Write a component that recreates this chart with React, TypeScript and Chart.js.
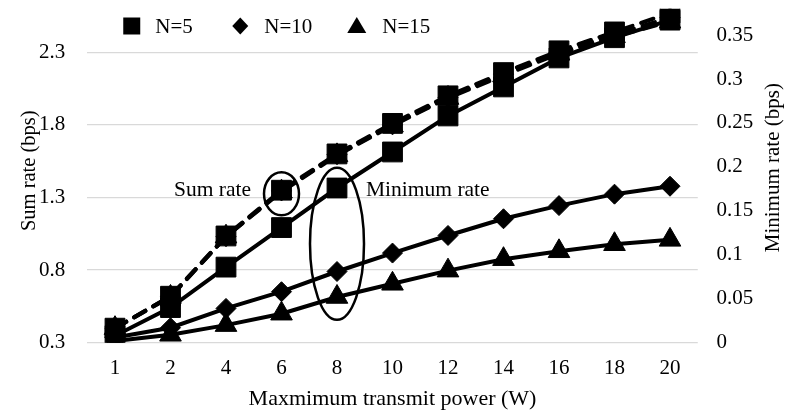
import { useEffect, useRef } from "react";
import { Chart, registerables } from "chart.js";

Chart.register(...registerables);

// ---- data ----
const POWER = ["1", "2", "4", "6", "8", "10", "12", "14", "16", "18", "20"];

// Sum rate (left axis, dashed)
const SUM_N5 = [0.4, 0.62, 1.035, 1.35, 1.6, 1.81, 2.0, 2.16, 2.31, 2.44, 2.57];
const SUM_N10 = [0.4, 0.62, 1.03, 1.345, 1.595, 1.8, 1.99, 2.15, 2.3, 2.42, 2.54];
const SUM_N15 = [0.4, 0.615, 1.03, 1.34, 1.59, 1.795, 1.985, 2.14, 2.29, 2.41, 2.51];

// Minimum rate (right axis, solid)
const MIN_N5 = [0.008, 0.04, 0.086, 0.131, 0.176, 0.217, 0.258, 0.291, 0.324, 0.347, 0.367];
const MIN_N10 = [0.006, 0.017, 0.039, 0.058, 0.081, 0.102, 0.122, 0.141, 0.156, 0.169, 0.178];
const MIN_N15 = [0.002, 0.009, 0.02, 0.033, 0.052, 0.067, 0.082, 0.095, 0.104, 0.112, 0.117];

const LEFT_TICKS = [0.3, 0.8, 1.3, 1.8, 2.3];
const RIGHT_TICKS = [0, 0.05, 0.1, 0.15, 0.2, 0.25, 0.3, 0.35];
const LEGEND_LABELS = ["N=5", "N=10", "N=15"];
const LEGEND_STYLES = ["rect", "rectRot", "triangle"];
const LEFT_TITLE = "Sum rate (bps)";
const RIGHT_TITLE = "Minimum rate (bps)";

const FONT = "'Liberation Serif', 'Times New Roman', serif";

const annotationPlugin = {
  id: "annotationPlugin",
  afterDatasetsDraw(chart: any) {
    const ctx = chart.ctx as CanvasRenderingContext2D;
    const x = chart.scales.x;
    const yL = chart.scales.yL;
    const yR = chart.scales.yR;
    const area = chart.chartArea;
    ctx.save();
    // ellipses
    ctx.strokeStyle = "#000";
    ctx.lineWidth = 2.5;
    ctx.beginPath();
    ctx.ellipse(x.getPixelForValue(3), yL.getPixelForValue(1.325), 17.5, 21.5, 0, 0, Math.PI * 2);
    ctx.stroke();
    ctx.beginPath();
    ctx.ellipse(x.getPixelForValue(4), yR.getPixelForValue(0.1125), 27, 76, 0, 0, Math.PI * 2);
    ctx.stroke();
    // annotation texts
    ctx.fillStyle = "#000";
    ctx.font = `21.5px ${FONT}`;
    ctx.textBaseline = "middle";
    ctx.textAlign = "right";
    ctx.fillText("Sum rate", x.getPixelForValue(3) - 30.5, yL.getPixelForValue(1.35));
    ctx.textAlign = "left";
    ctx.fillText("Minimum rate", x.getPixelForValue(4) + 29, yL.getPixelForValue(1.35));

    // legend
    ctx.font = `21px ${FONT}`;
    const ly = area.top + 17.3;
    const markerX = [area.left + 44.5, area.left + 153, area.left + 269.5];
    const textX = [area.left + 68, area.left + 177, area.left + 295];
    for (let i = 0; i < LEGEND_LABELS.length; i++) {
      const mx = markerX[i];
      ctx.beginPath();
      if (LEGEND_STYLES[i] === "rect") {
        ctx.rect(mx - 8.5, ly - 8.5, 17, 17);
      } else if (LEGEND_STYLES[i] === "rectRot") {
        ctx.moveTo(mx, ly - 8.5);
        ctx.lineTo(mx + 8, ly);
        ctx.lineTo(mx, ly + 8.5);
        ctx.lineTo(mx - 8, ly);
        ctx.closePath();
      } else {
        ctx.moveTo(mx, ly - 9);
        ctx.lineTo(mx + 9.5, ly + 7);
        ctx.lineTo(mx - 9.5, ly + 7);
        ctx.closePath();
      }
      ctx.fill();
      ctx.textAlign = "left";
      ctx.fillText(LEGEND_LABELS[i], textX[i], ly + 1);
    }
    ctx.restore();
  },
  afterDraw(chart: any) {
    // axis titles, both reading bottom-to-top
    const ctx = chart.ctx as CanvasRenderingContext2D;
    const area = chart.chartArea;
    const midY = (area.top + area.bottom) / 2;
    ctx.save();
    ctx.fillStyle = "#000";
    ctx.textAlign = "center";
    ctx.textBaseline = "middle";
    ctx.font = `20.5px ${FONT}`;
    ctx.translate(area.left - 58, midY - 5);
    ctx.rotate(-Math.PI / 2);
    ctx.fillText(LEFT_TITLE, 0, 0);
    ctx.restore();
    ctx.save();
    ctx.fillStyle = "#000";
    ctx.textAlign = "center";
    ctx.textBaseline = "middle";
    ctx.font = `21px ${FONT}`;
    ctx.translate(area.right + 75.5, midY - 8);
    ctx.rotate(-Math.PI / 2);
    ctx.fillText(RIGHT_TITLE, 0, 0);
    ctx.restore();
  },
};

function makeDataset(label: string, data: number[], axis: string, style: string, dashed: boolean) {
  const radius = style === "rect" ? 14 : style === "rectRot" ? 10 : 12.5;
  return {
    label,
    data,
    yAxisID: axis,
    borderColor: "#000",
    backgroundColor: "#000",
    borderWidth: 4,
    borderDash: dashed ? [13, 9] : [],
    borderCapStyle: dashed ? "round" : "butt",
    pointStyle: style,
    pointRadius: radius,
    pointBackgroundColor: "#000",
    pointBorderColor: "#000",
    pointBorderWidth: 1,
    tension: 0,
    fill: false,
  };
}

function noPad(s: any) {
  s.paddingTop = 0;
  s.paddingBottom = 0;
  s.paddingLeft = 0;
  s.paddingRight = 0;
}

export default function App() {
  const canvasRef = useRef<HTMLCanvasElement | null>(null);

  useEffect(() => {
    document.body.style.margin = "0";
    const canvas = canvasRef.current;
    if (!canvas) return;
    const chart = new Chart(canvas, {
      type: "line",
      data: {
        labels: POWER,
        datasets: [
          makeDataset("Sum N=5", SUM_N5, "yL", "rect", true),
          makeDataset("Sum N=10", SUM_N10, "yL", "rectRot", true),
          makeDataset("Sum N=15", SUM_N15, "yL", "triangle", true),
          makeDataset("Min N=5", MIN_N5, "yR", "rect", false),
          makeDataset("Min N=10", MIN_N10, "yR", "rectRot", false),
          makeDataset("Min N=15", MIN_N15, "yR", "triangle", false),
        ] as any,
      },
      options: {
        animation: false,
        responsive: true,
        maintainAspectRatio: false,
        layout: { autoPadding: false, padding: { top: 8.7, left: 0, right: 0, bottom: 0 } },
        plugins: {
          legend: { display: false },
          tooltip: { enabled: false },
        },
        scales: {
          x: {
            type: "category",
            offset: true,
            grid: { display: false, drawTicks: false },
            border: { display: false },
            ticks: {
              color: "#000",
              padding: 13,
              maxRotation: 0,
              font: { family: FONT, size: 21 },
            },
            title: {
              display: true,
              text: "Maxmimum transmit power (W)",
              color: "#000",
              font: { family: FONT, size: 22 },
              padding: { top: 0, bottom: 4.4 },
            },
            afterFit: (s: any) => {
              s.height = 74.3;
              noPad(s);
            },
          },
          yL: {
            type: "linear",
            position: "left",
            min: 0.3,
            max: 2.6,
            grid: { color: "#d9d9d9", lineWidth: 1.3, drawTicks: false },
            border: { display: false },
            afterBuildTicks: (s: any) => {
              s.ticks = LEFT_TICKS.map((v) => ({ value: v }));
            },
            ticks: {
              color: "#000",
              padding: 22,
              font: { family: FONT, size: 21 },
              callback: (v: any) => String(v),
            },
            afterFit: (s: any) => {
              s.width = 87.25;
              noPad(s);
            },
          },
          yR: {
            type: "linear",
            position: "right",
            min: 0,
            max: 0.38,
            grid: { display: false, drawTicks: false },
            border: { display: false },
            afterBuildTicks: (s: any) => {
              s.ticks = RIGHT_TICKS.map((v) => ({ value: v }));
            },
            ticks: {
              color: "#000",
              padding: 18.7,
              font: { family: FONT, size: 21 },
              callback: (v: any) => String(v),
            },
            afterFit: (s: any) => {
              s.width = 91.25;
              noPad(s);
            },
          },
        },
      } as any,
      plugins: [annotationPlugin],
    });
    return () => chart.destroy();
  }, []);

  return (
    <div style={{ position: "absolute", left: 0, top: 0, width: 789, height: 417, background: "#fff" }}>
      <canvas ref={canvasRef} />
    </div>
  );
}
